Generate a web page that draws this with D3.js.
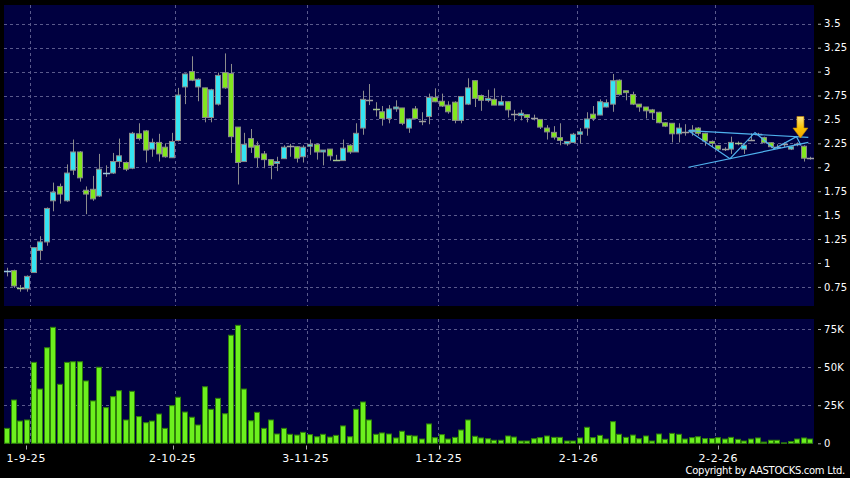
<!DOCTYPE html>
<html>
<head>
<meta charset="UTF-8">
<title>AASTOCKS candlestick</title>
<script src="https://cdn.jsdelivr.net/npm/d3@7"></script>
<style>
  body { margin: 0; background: #000; }
  .chart text { font-family: "DejaVu Sans", Verdana, sans-serif; fill: #fff; }
</style>
</head>
<body>
<div class="chart"></div>
<script>

// daily OHLC (index 0 = first candle)
var opens = [0.91,0.92,0.745,0.73,0.90,1.13,1.22,1.65,1.80,1.65, 1.97,2.16,1.76,1.77,1.70,1.93,1.94,2.06,2.05,1.99,
  2.35,2.38,2.19,2.26,2.21,2.10,2.28,2.84,3.00,2.84, 2.83,2.52,2.66,2.99,2.98,2.42,2.06,2.30,2.23,2.14,
  2.08,2.04,2.09,2.22,2.215,2.11,2.22,2.24,2.16,2.19, 2.09,2.07,2.23,2.16,2.41,2.70,2.62,2.58,2.51,2.61,
  2.62,2.41,2.61,2.48,2.53,2.73,2.69,2.65,2.68,2.49, 2.66,2.905,2.75,2.70,2.71,2.65,2.685,2.555,2.54,2.55,
  2.52,2.50,2.41,2.365,2.31,2.245,2.26,2.345,2.41,2.555, 2.546,2.63,2.66,2.91,2.80,2.76,2.66,2.63,2.60,2.575,
  2.465,2.46,2.35,2.37,2.37,2.41,2.355,2.27,2.226,2.19, 2.19,2.255,2.19,2.29,2.345,2.31,2.257,2.215,2.24,2.19,
  2.24,2.22,2.095];
var highs = [0.95,0.93,0.77,0.87,1.165,1.28,1.58,1.84,1.83,2.03, 2.29,2.17,1.80,1.91,2.14,2.02,2.15,2.30,2.06,2.37,
  2.46,2.39,2.30,2.35,2.25,2.36,2.83,2.98,3.16,2.93, 2.83,2.82,2.99,3.19,3.08,2.42,2.36,2.40,2.27,2.17,
  2.08,2.11,2.23,2.245,2.22,2.23,2.29,2.25,2.18,2.19, 2.13,2.29,2.24,2.46,2.80,2.87,2.68,2.64,2.65,2.70,
  2.62,2.51,2.64,2.575,2.77,2.825,2.77,2.69,2.69,2.74, 2.93,2.91,2.76,2.81,2.825,2.75,2.69,2.60,2.60,2.555,
  2.55,2.50,2.44,2.43,2.46,2.27,2.36,2.41,2.575,2.64, 2.71,2.71,2.975,2.92,2.80,2.79,2.66,2.63,2.61,2.58,
  2.47,2.46,2.46,2.45,2.44,2.42,2.36,2.28,2.23,2.21, 2.32,2.27,2.24,2.355,2.36,2.32,2.26,2.24,2.26,2.22,
  2.26,2.23,2.11];
var lows = [0.86,0.74,0.70,0.70,0.90,1.03,1.18,1.54,1.62,1.64, 1.92,1.85,1.51,1.65,1.69,1.90,1.93,2.00,1.96,1.98,
  2.28,2.05,2.11,2.06,2.10,2.10,2.27,2.66,2.90,2.69, 2.47,2.47,2.645,2.82,2.15,1.82,2.06,2.15,2.00,1.99,
  1.875,1.96,2.09,2.11,2.05,2.05,2.13,2.08,2.02,2.07, 2.07,2.07,2.14,2.16,2.34,2.65,2.53,2.435,2.46,2.58,
  2.44,2.36,2.50,2.44,2.45,2.68,2.63,2.56,2.46,2.46, 2.65,2.63,2.59,2.68,2.65,2.65,2.52,2.48,2.49,2.47,
  2.49,2.40,2.29,2.29,2.23,2.225,2.26,2.25,2.33,2.485, 2.545,2.625,2.58,2.75,2.70,2.65,2.58,2.51,2.50,2.46,
  2.42,2.26,2.26,2.33,2.33,2.33,2.225,2.21,2.17,2.17, 2.14,2.23,2.14,2.28,2.33,2.25,2.20,2.19,2.21,2.18,
  2.22,2.06,2.08];
var closes = [0.92,0.76,0.735,0.86,1.16,1.22,1.57,1.74,1.72,1.94, 2.16,1.89,1.72,1.67,1.98,1.94,2.06,2.12,1.98,2.355,
  2.30,2.18,2.26,2.14,2.11,2.27,2.755,2.975,2.91,2.92, 2.52,2.81,2.96,2.83,2.32,2.05,2.24,2.21,2.10,2.08,
  2.02,2.06,2.21,2.22,2.095,2.21,2.24,2.16,2.18,2.12, 2.08,2.20,2.16,2.355,2.71,2.70,2.61,2.51,2.61,2.63,
  2.46,2.505,2.51,2.48,2.73,2.685,2.64,2.58,2.49,2.74, 2.83,2.72,2.70,2.72,2.65,2.685,2.60,2.555,2.565,2.52,
  2.52,2.42,2.37,2.315,2.28,2.27,2.345,2.37,2.505,2.51, 2.685,2.675,2.905,2.76,2.78,2.66,2.63,2.59,2.57,2.466,
  2.43,2.35,2.41,2.37,2.39,2.355,2.275,2.25,2.19,2.19, 2.26,2.25,2.23,2.29,2.345,2.257,2.215,2.215,2.24,2.215,
  2.24,2.095,2.095];
var volumes = [9800,28400,14600,15300,53100,35600,62700,76100,38700,53100, 53500,53500,40900,27800,49900,23400,30600,34500,15300,34100,
  17500,13500,14600,19200,9800,24700,30200,20500,17100,12000, 37100,22300,29500,19400,70900,77400,35600,14800,20300,9800,
  15300,6100,9800,5900,5400,7200,5700,4300,5900,4100, 5200,11400,4300,22300,27100,15300,5900,6800,6100,3500,
  7900,5200,4800,2800,12700,3700,5700,2800,3900,8700, 15300,4600,3500,3000,2000,2000,4800,4100,1500,1500,
  3000,3700,4800,3900,3900,1500,1500,3500,10500,3700, 5200,2800,14200,5900,3900,5400,3000,4800,1500,6100,
  2600,6500,5900,2800,3700,4300,3100,3100,3700,2800, 3900,2600,1500,2800,3500,800,2000,2000,300,1200,
  2800,3500,2800];

// date labels and the candle index (between candles) they sit on
var dateLabels = ['1-9-25', '2-10-25', '3-11-25', '1-12-25', '2-1-26', '2-2-26'];
var dateIndex = [3.5, 25.5, 45.5, 65.5, 86.5, 107.5];

var priceTicks = [0.75, 1, 1.25, 1.5, 1.75, 2, 2.25, 2.5, 2.75, 3, 3.25, 3.5];
var volumeTicks = [0, 25000, 50000, 75000];

// hand drawn triangle on the right: [candle index, price]
var triangleTop = [[103.5, 2.383], [121.7, 2.313]];
var triangleBottom = [[103.5, 2.0], [121.7, 2.261]];
var zigzag = [[103.5, 2.383], [109.8, 2.09], [113.6, 2.364], [116.5, 2.194], [119.9, 2.32], [120.6, 2.228]];
var arrowAt = [120.5, 2.306];

var W = 850, H = 478;
var main = { left: 4, right: 814, top: 5, bottom: 306 };
var vol = { left: 4, right: 814, top: 319, bottom: 443.5 };

var svg = d3.select('.chart')
  .append('svg')
    .attr('width', W)
    .attr('height', H)
    .style('display', 'block');

svg.append('rect').attr('width', W).attr('height', H).attr('fill', '#000');

var x = d3.scaleLinear().domain([0, opens.length - 1]).range([7.3, 810.3]);
var xLabel = d3.scaleLinear().domain([3.5, 107.5]).range([26.3, 718.3]);
var y = d3.scaleLinear().domain([0.75, 3.5]).range([286.9, 23.75]);
var yVol = d3.scaleLinear().domain([0, 75000]).range([443.3, 329]);

var navy = '#000040';
var gridColor = '#5a5a8c';

[main, vol].forEach(p => {
  svg.append('rect')
    .attr('x', p.left).attr('y', p.top)
    .attr('width', p.right - p.left).attr('height', p.bottom - p.top)
    .attr('fill', navy);
});

// grid
function hGrid(values, scale, panel) {
  svg.append('g')
    .selectAll('line')
    .data(values)
    .enter()
    .append('line')
      .attr('x1', panel.left).attr('x2', panel.right)
      .attr('y1', d => Math.round(scale(d)) + 0.5)
      .attr('y2', d => Math.round(scale(d)) + 0.5)
      .attr('stroke', gridColor)
      .attr('stroke-dasharray', '3,3');
}
function vGrid(panel) {
  svg.append('g')
    .selectAll('line')
    .data(dateIndex)
    .enter()
    .append('line')
      .attr('x1', d => Math.round(x(d)) + 0.5).attr('x2', d => Math.round(x(d)) + 0.5)
      .attr('y1', panel.top).attr('y2', panel.bottom)
      .attr('stroke', gridColor)
      .attr('stroke-dasharray', '3,3');
}
hGrid(priceTicks, y, main);
vGrid(main);
hGrid(volumeTicks.filter(d => d > 0), yVol, vol);
vGrid(vol);

// right axes
var yAxis = d3.axisRight(y)
  .tickValues(priceTicks)
  .tickFormat(d => String(d))
  .tickSize(3)
  .tickPadding(3);
var gy = svg.append('g')
  .attr('transform', `translate(${main.right + 4}, 0)`)
  .call(yAxis);

var volAxis = d3.axisRight(yVol)
  .tickValues(volumeTicks)
  .tickFormat(d => d === 0 ? '0' : (d / 1000) + 'K')
  .tickSize(3)
  .tickPadding(3);
var gv = svg.append('g')
  .attr('transform', `translate(${vol.right + 4}, 0)`)
  .call(volAxis);

[gy, gv].forEach(g => {
  g.select('.domain').remove();
  g.selectAll('.tick line').attr('stroke', '#aaa');
  g.selectAll('.tick text')
    .attr('fill', '#fff')
    .style('font-size', '10px')
    .style('letter-spacing', '0.3px');
});

// date axis
var gx = svg.append('g').attr('transform', `translate(0, ${vol.bottom + 2})`);
gx.selectAll('line')
  .data(dateIndex)
  .enter()
  .append('line')
    .attr('x1', d => Math.round(xLabel(d)) + 0.5).attr('x2', d => Math.round(xLabel(d)) + 0.5)
    .attr('y1', 0).attr('y2', 4)
    .attr('stroke', '#aaa');
gx.selectAll('text')
  .data(dateLabels)
  .enter()
  .append('text')
    .attr('x', (d, i) => xLabel(dateIndex[i]))
    .attr('y', 16.5)
    .attr('text-anchor', 'middle')
    .style('font-size', '11px')
    .style('letter-spacing', '0.6px')
    .text(d => d);

// volume bars
svg.append('g')
  .selectAll('rect')
  .data(volumes)
  .enter()
  .append('rect')
    .attr('x', (d, i) => Math.round(x(i)) - 2.5)
    .attr('y', d => yVol(d))
    .attr('width', 5)
    .attr('height', d => yVol(0) - yVol(d))
    .attr('fill', '#6cf01e')
    .attr('stroke', '#2f7f0a')
    .attr('stroke-width', 1);

// candles
var candles = opens.map((o, i) => ({ i: i, o: o, h: highs[i], l: lows[i], c: closes[i] }));
var cg = svg.append('g');

cg.selectAll('.wick')
  .data(candles)
  .enter()
  .append('line')
    .attr('class', 'wick')
    .attr('x1', d => Math.round(x(d.i)) + 0.5).attr('x2', d => Math.round(x(d.i)) + 0.5)
    .attr('y1', d => y(d.h)).attr('y2', d => y(d.l))
    .attr('stroke', '#8c8c8c');

var bodies = candles.filter(d => Math.abs(y(d.o) - y(d.c)) >= 1.5);
var dojis = candles.filter(d => Math.abs(y(d.o) - y(d.c)) < 1.5);

cg.selectAll('.body')
  .data(bodies)
  .enter()
  .append('rect')
    .attr('class', 'body')
    .attr('x', d => Math.round(x(d.i)) - 2.5)
    .attr('y', d => y(Math.max(d.o, d.c)))
    .attr('width', 5)
    .attr('height', d => Math.abs(y(d.o) - y(d.c)))
    .attr('fill', d => d.c > d.o ? '#35e4f2' : '#82e61e')
    .attr('stroke', '#8a8a8a')
    .attr('stroke-width', 1);

cg.selectAll('.doji')
  .data(dojis)
  .enter()
  .append('line')
    .attr('class', 'doji')
    .attr('x1', d => Math.round(x(d.i)) - 3).attr('x2', d => Math.round(x(d.i)) + 4)
    .attr('y1', d => Math.round(y(d.c)) + 0.5).attr('y2', d => Math.round(y(d.c)) + 0.5)
    .attr('stroke', d => d.c > d.o ? '#9cc8dc' : (d.c < d.o ? '#a8c890' : '#a0a0a0'))
    .attr('stroke-width', 1.5);

// triangle drawing
var line = d3.line().x(d => x(d[0])).y(d => y(d[1]));
[triangleTop, triangleBottom, zigzag].forEach(pts => {
  svg.append('path')
    .attr('d', line(pts))
    .attr('fill', 'none')
    .attr('stroke', '#4fb2ee')
    .attr('stroke-width', 1.2);
});

// yellow arrow pointing down
var defs = svg.append('defs');
var grad = defs.append('linearGradient')
  .attr('id', 'arrowGrad')
  .attr('x1', 0).attr('y1', 0).attr('x2', 0).attr('y2', 1);
grad.append('stop').attr('offset', '0%').attr('stop-color', '#ffe680');
grad.append('stop').attr('offset', '55%').attr('stop-color', '#f8c000');
grad.append('stop').attr('offset', '100%').attr('stop-color', '#f0a000');

var ax = x(arrowAt[0]), ay = y(arrowAt[1]);
svg.append('path')
  .attr('d', `M${ax - 3.5},${ay - 21.5} L${ax + 3.5},${ay - 21.5} L${ax + 3.5},${ay - 10}
              L${ax + 7.5},${ay - 10} L${ax},${ay} L${ax - 7.5},${ay - 10} L${ax - 3.5},${ay - 10} Z`)
  .attr('fill', 'url(#arrowGrad)')
  .attr('stroke', '#c88400')
  .attr('stroke-width', 0.6);

// copyright
svg.append('text')
  .attr('x', 845)
  .attr('y', 474)
  .attr('text-anchor', 'end')
  .style('font-size', '10px')
  .style('letter-spacing', '-0.3px')
  .text('Copyright by AASTOCKS.com Ltd.');

</script>
</body>
</html>
